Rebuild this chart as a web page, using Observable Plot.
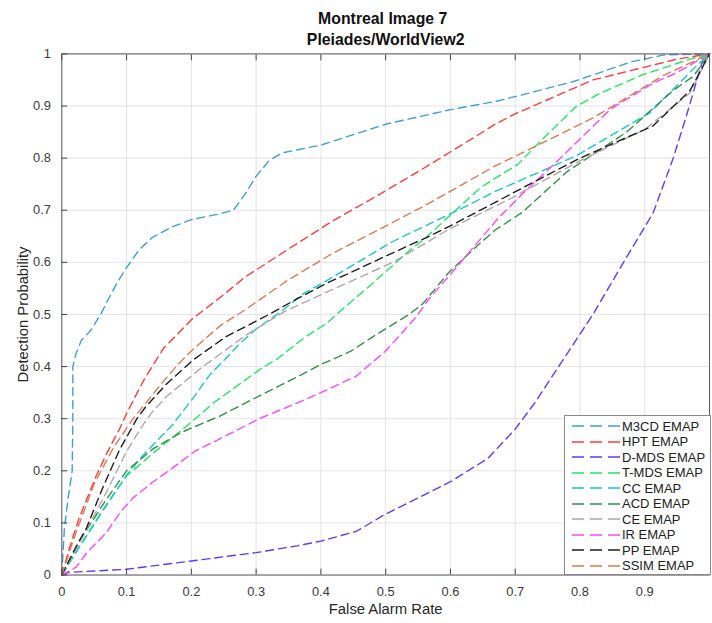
<!DOCTYPE html>
<html>
<head>
<meta charset="utf-8">
<script src="https://cdn.jsdelivr.net/npm/d3@7"></script>
<script src="https://cdn.jsdelivr.net/npm/@observablehq/plot@0.6"></script>
<style>
  html, body { margin: 0; padding: 0; background: #fff; overflow: hidden; }
  #wrap { position: relative; width: 712px; height: 623px; overflow: hidden; background: #fff; }
  #chart { position: absolute; left: 0; top: 0; }
  #legend { position: absolute; left: 564px; top: 415px; width: 145px; height: 158px; border: 1px solid #8a8a8a; background: #fff; font-family: "Liberation Sans", Arial, sans-serif; font-size: 13px; color: #222; }
  .row { position: absolute; left: 0; height: 16px; display: flex; align-items: center; }
  .row svg { margin-left: 7px; margin-right: 2px; }
</style>
</head>
<body>
<div id="wrap"><div id="chart"></div><div id="legend"></div></div>
<script>
const methods = ["M3CD EMAP","HPT EMAP","D-MDS EMAP","T-MDS EMAP","CC EMAP","ACD EMAP","CE EMAP","IR EMAP","PP EMAP","SSIM EMAP"];
const colors  = ["#3d9fd8","#ff3b3b","#5a3cff","#1fe863","#16c9c9","#2f9044","#b3a3aa","#ff45ff","#1e1e1e","#d97a50"];
const xTicks = [0,0.1,0.2,0.3,0.4,0.5,0.6,0.7,0.8,0.9];
const yTicks = [0,0.1,0.2,0.3,0.4,0.5,0.6,0.7,0.8,0.9,1];

const m3cd = [[0,0],[0.004,0.09],[0.01,0.15],[0.016,0.2],[0.017,0.3],[0.017,0.4],[0.022,0.425],[0.03,0.45],[0.045,0.47],[0.06,0.5],[0.07,0.525],[0.085,0.56],[0.1,0.59],[0.12,0.625],[0.14,0.648],[0.17,0.668],[0.2,0.682],[0.24,0.692],[0.265,0.7],[0.285,0.735],[0.3,0.765],[0.32,0.795],[0.34,0.81],[0.4,0.825],[0.45,0.845],[0.5,0.865],[0.6,0.893],[0.67,0.909],[0.7,0.918],[0.79,0.947],[0.88,0.985],[0.93,0.998],[1,1]];
const hpt = [[0,0],[0.012,0.053],[0.027,0.11],[0.04,0.15],[0.053,0.19],[0.07,0.235],[0.089,0.28],[0.1,0.31],[0.127,0.375],[0.157,0.435],[0.18,0.464],[0.2,0.49],[0.25,0.538],[0.282,0.571],[0.353,0.628],[0.419,0.68],[0.49,0.73],[0.562,0.783],[0.633,0.837],[0.669,0.865],[0.7,0.885],[0.82,0.95],[0.95,0.99],[1,1]];
const dmds = [[0,0],[0.01,0.005],[0.1,0.011],[0.2,0.027],[0.3,0.043],[0.363,0.056],[0.4,0.065],[0.455,0.084],[0.5,0.117],[0.55,0.148],[0.6,0.179],[0.658,0.224],[0.7,0.28],[0.73,0.33],[0.757,0.381],[0.82,0.5],[0.872,0.61],[0.913,0.695],[0.944,0.8],[0.964,0.88],[0.99,0.99],[1,1]];
const tmds = [[0,0],[0.03,0.06],[0.066,0.13],[0.1,0.19],[0.145,0.238],[0.192,0.285],[0.234,0.33],[0.305,0.394],[0.333,0.415],[0.376,0.457],[0.409,0.483],[0.424,0.5],[0.48,0.56],[0.536,0.622],[0.557,0.642],[0.648,0.745],[0.704,0.788],[0.75,0.846],[0.795,0.9],[0.832,0.925],[0.897,0.96],[0.97,0.99],[1,1]];
const cc = [[0,0],[0.02,0.04],[0.066,0.128],[0.099,0.19],[0.124,0.228],[0.145,0.255],[0.17,0.287],[0.203,0.34],[0.229,0.385],[0.256,0.419],[0.274,0.443],[0.3,0.472],[0.338,0.505],[0.373,0.54],[0.409,0.565],[0.45,0.595],[0.511,0.64],[0.623,0.707],[0.669,0.736],[0.704,0.755],[0.795,0.805],[0.908,0.887],[0.974,0.97],[1,1]];
const acd = [[0,0],[0.03,0.07],[0.066,0.14],[0.1,0.2],[0.129,0.23],[0.142,0.243],[0.185,0.274],[0.244,0.305],[0.315,0.35],[0.363,0.38],[0.4,0.404],[0.447,0.43],[0.48,0.457],[0.536,0.5],[0.557,0.52],[0.597,0.58],[0.638,0.628],[0.669,0.662],[0.71,0.695],[0.78,0.774],[0.872,0.85],[0.944,0.93],[0.975,0.957],[1,1]];
const ce = [[0,0],[0.02,0.045],[0.066,0.152],[0.099,0.235],[0.122,0.282],[0.139,0.312],[0.162,0.343],[0.218,0.4],[0.284,0.46],[0.343,0.505],[0.409,0.543],[0.511,0.6],[0.597,0.663],[0.694,0.723],[0.8,0.795],[0.9,0.855],[0.97,0.925],[1,1]];
const ir = [[0,0],[0.022,0.015],[0.04,0.045],[0.068,0.08],[0.09,0.12],[0.11,0.148],[0.14,0.178],[0.165,0.2],[0.206,0.238],[0.234,0.255],[0.305,0.3],[0.363,0.33],[0.4,0.35],[0.455,0.382],[0.5,0.43],[0.547,0.495],[0.567,0.53],[0.613,0.596],[0.674,0.685],[0.715,0.736],[0.77,0.8],[0.847,0.894],[0.913,0.944],[0.948,0.963],[1,1]];
const pp = [[0,0],[0.02,0.05],[0.038,0.09],[0.063,0.167],[0.089,0.24],[0.116,0.3],[0.129,0.322],[0.162,0.367],[0.203,0.413],[0.253,0.457],[0.323,0.502],[0.363,0.53],[0.414,0.563],[0.44,0.577],[0.5,0.612],[0.562,0.647],[0.6,0.67],[0.669,0.715],[0.71,0.742],[0.8,0.8],[0.913,0.862],[0.97,0.93],[1,1]];
const ssim = [[0,0],[0.02,0.075],[0.05,0.175],[0.08,0.245],[0.11,0.3],[0.157,0.372],[0.18,0.405],[0.2,0.43],[0.244,0.478],[0.282,0.508],[0.348,0.565],[0.419,0.618],[0.49,0.663],[0.562,0.71],[0.608,0.742],[0.669,0.785],[0.704,0.806],[0.82,0.877],[0.928,0.958],[1,1]];

const series = [m3cd, hpt, dmds, tmds, cc, acd, ce, ir, pp, ssim];
const table = series.flatMap((s, i) => s.map(([fpr, pd]) => ({method: methods[i], fpr, pd})));
const fmt = d => String(+d.toFixed(1));
const font = "Liberation Sans, Arial, sans-serif";

const chart = Plot.plot({
  width: 720,
  height: 623,
  marginLeft: 62,
  marginRight: 3,
  marginTop: 54,
  marginBottom: 42,
  style: {fontFamily: font, fontSize: "13px", color: "#333", background: "#fff"},
  x: {domain: [0, 1]},
  y: {domain: [0, 1]},
  color: {domain: methods, range: colors},
  marks: [
    Plot.gridX(xTicks, {stroke: "#e4e4e4", strokeOpacity: 1}),
    Plot.gridY(yTicks, {stroke: "#e4e4e4", strokeOpacity: 1}),
    Plot.line(table, {x: "fpr", y: "pd", z: "method", stroke: "method", strokeWidth: 1.4, strokeDasharray: "8,5"}),
    Plot.frame({stroke: "#5a5a5a"}),
    Plot.axisX(xTicks, {tickSize: -6, tickPadding: 18, tickFormat: fmt, label: null, stroke: "#444", fill: "#3a3a3a"}),
    Plot.axisX(xTicks, {anchor: "top", tickSize: -6, tickFormat: () => "", label: null, stroke: "#444"}),
    Plot.axisY(yTicks, {tickSize: -6, tickPadding: 17, tickFormat: fmt, label: null, stroke: "#444", fill: "#3a3a3a"}),
    Plot.text(["False Alarm Rate"], {frameAnchor: "bottom", dy: 39, fontSize: 15, fill: "#262626"}),
    Plot.text(["Detection Probability"], {frameAnchor: "left", textAnchor: "middle", lineAnchor: "middle", dx: -39, rotate: -90, fontSize: 15, fill: "#262626"}),
    Plot.text(["Montreal Image 7"], {frameAnchor: "top", lineAnchor: "middle", dy: -35, dx: -3, fontSize: 16, fontWeight: "bold", fill: "#111"}),
    Plot.text(["Pleiades/WorldView2"], {frameAnchor: "top", lineAnchor: "middle", dy: -14, fontSize: 16, fontWeight: "bold", fill: "#111"})
  ]
});
document.getElementById("chart").appendChild(chart);

const legend = document.getElementById("legend");
methods.forEach((m, i) => {
  const row = document.createElement("div");
  row.className = "row";
  row.style.top = (2 + i * 15.5) + "px";
  row.innerHTML = `<svg width="48" height="10"><line x1="0" y1="5" x2="48" y2="5" stroke="${colors[i]}" stroke-width="1.4" stroke-dasharray="12,6"/></svg><span>${m}</span>`;
  legend.appendChild(row);
});
</script>
</body>
</html>
